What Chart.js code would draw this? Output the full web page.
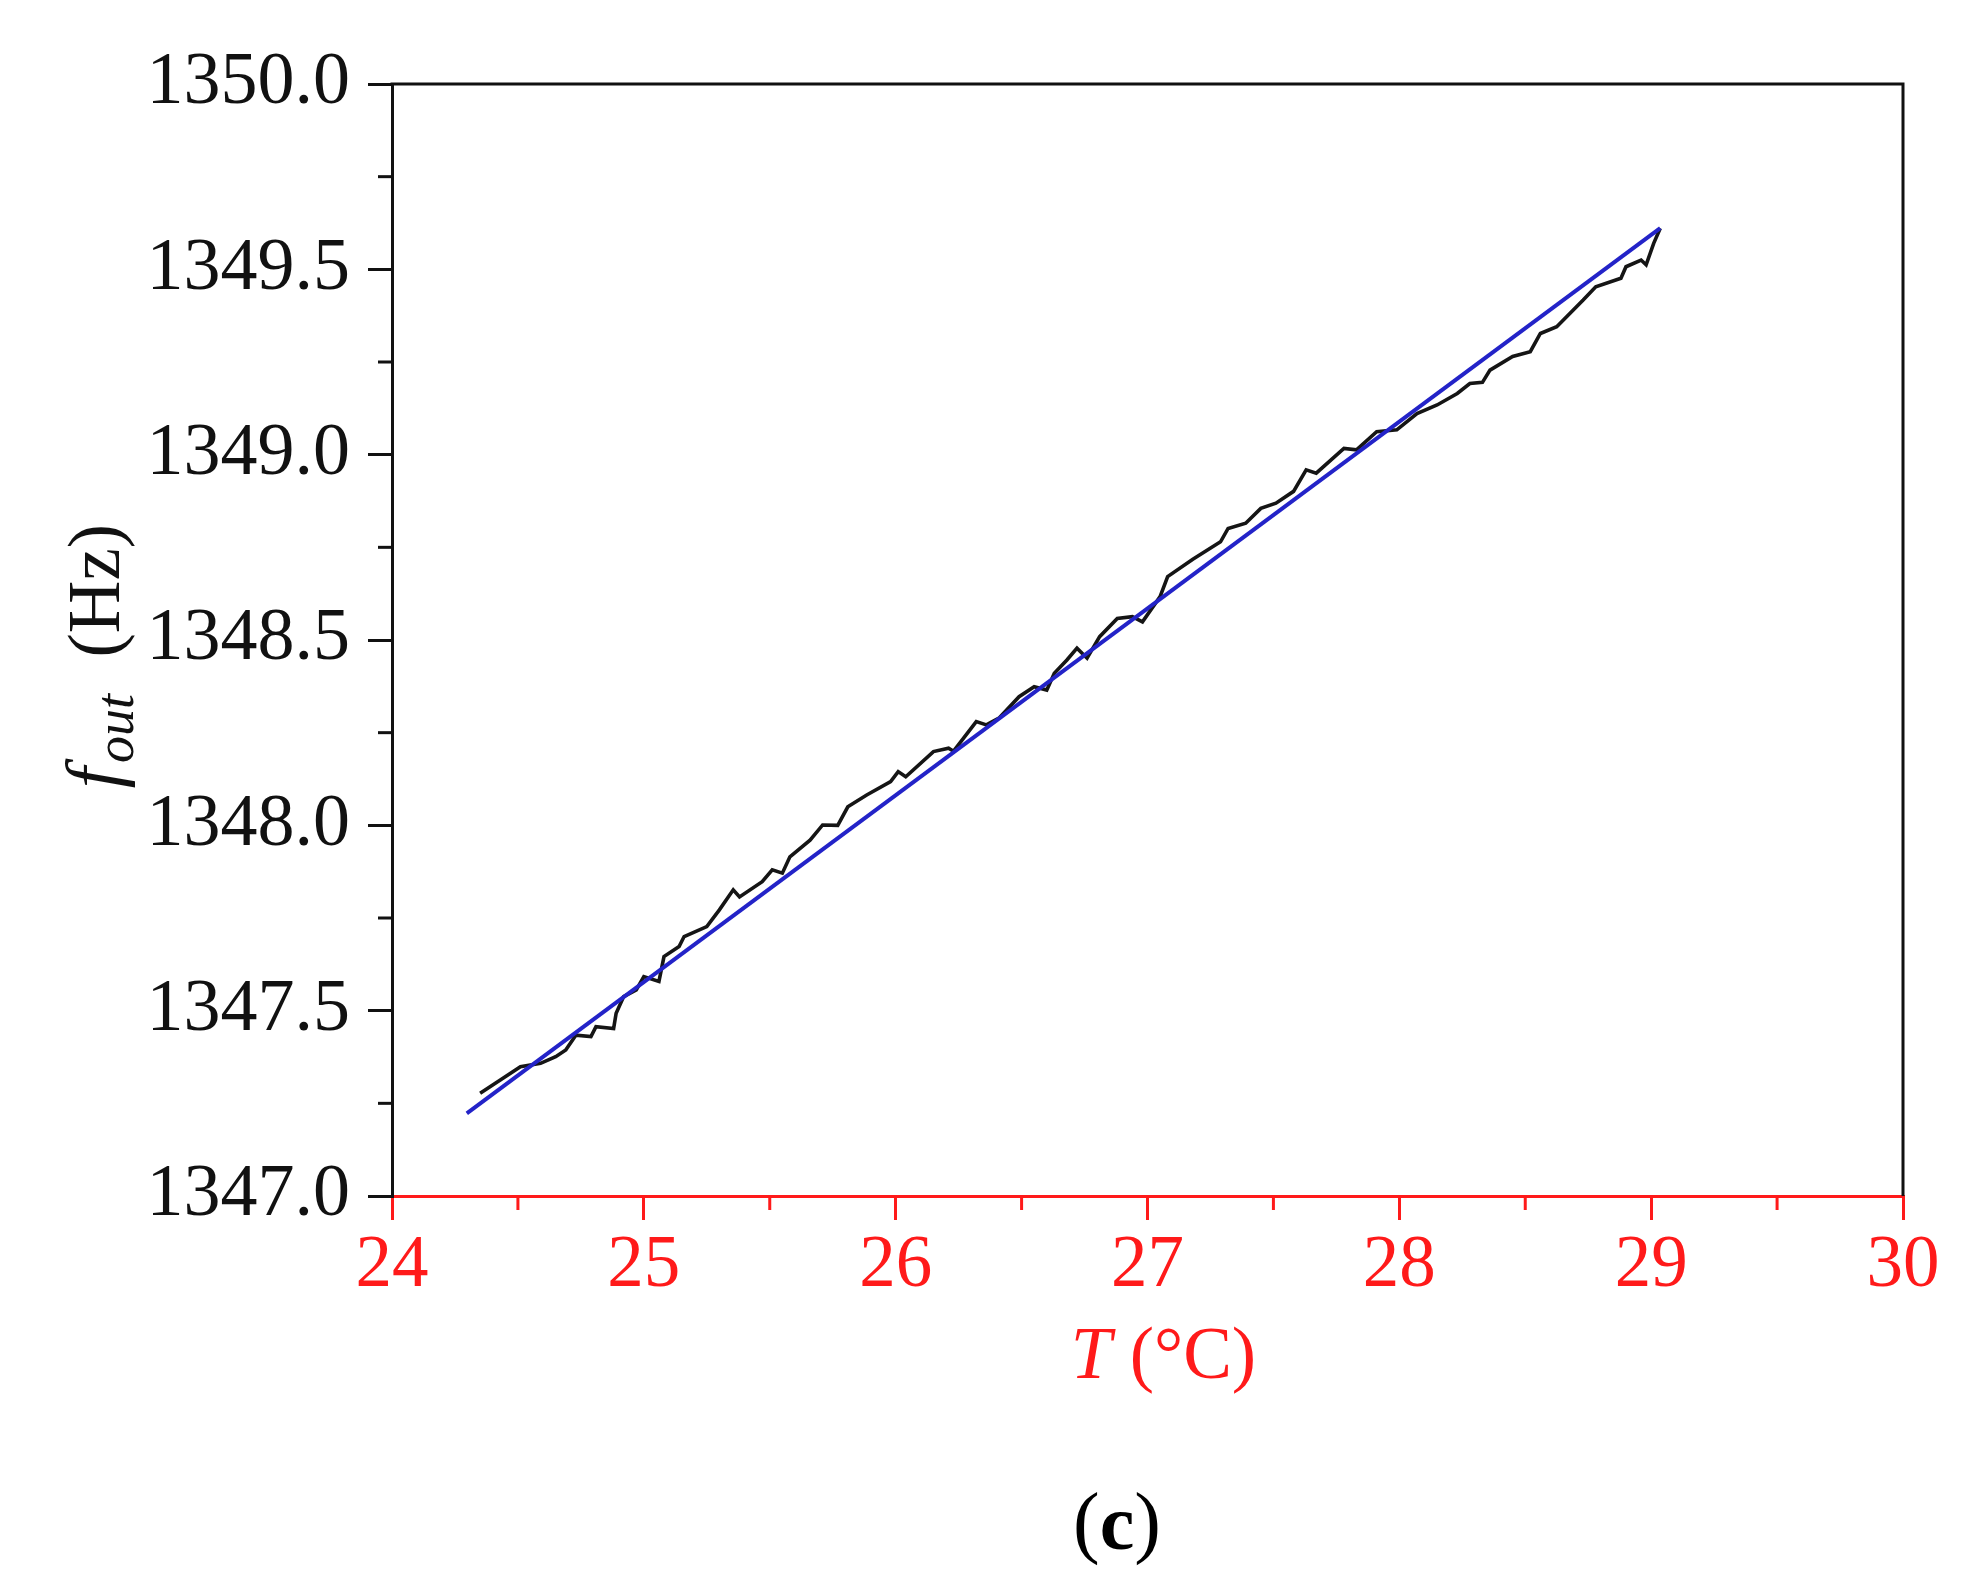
<!DOCTYPE html>
<html>
<head>
<meta charset="utf-8">
<script src="https://cdn.jsdelivr.net/npm/chart.js@4.4.1/dist/chart.umd.min.js"></script>
<style>
  html, body { margin: 0; padding: 0; background: #ffffff; }
  #wrap { position: relative; width: 1979px; height: 1590px; }
  canvas { display: block; }
</style>
</head>
<body>
<div id="wrap"><canvas id="c" width="1979" height="1590"></canvas></div>
<script>
// ---- data ----
const blackT = [24.35,24.43,24.51,24.59,24.65,24.69,24.73,24.79,24.81,24.88,24.89,24.92,24.97,25.00,25.06,25.08,25.14,25.16,25.25,25.30,25.355,25.38,25.47,25.51,25.55,25.58,25.66,25.71,25.77,25.81,25.885,25.98,26.01,26.04,26.15,26.21,26.23,26.32,26.36,26.41,26.49,26.55,26.60,26.63,26.68,26.72,26.76,26.81,26.88,26.94,26.98,27.05,27.08,27.18,27.29,27.32,27.39,27.45,27.51,27.58,27.63,27.67,27.78,27.83,27.91,27.99,28.07,28.15,28.23,28.28,28.33,28.36,28.45,28.52,28.56,28.625,28.73,28.78,28.88,28.90,28.96,28.98,29.01,29.036];
const blackF = [1347.277,1347.313,1347.349,1347.358,1347.376,1347.394,1347.434,1347.430,1347.457,1347.452,1347.493,1347.538,1347.556,1347.592,1347.579,1347.646,1347.673,1347.700,1347.727,1347.772,1347.826,1347.807,1347.848,1347.880,1347.871,1347.915,1347.960,1348.001,1348.000,1348.050,1348.082,1348.118,1348.145,1348.131,1348.199,1348.208,1348.200,1348.280,1348.271,1348.289,1348.347,1348.374,1348.365,1348.410,1348.446,1348.478,1348.451,1348.509,1348.558,1348.563,1348.549,1348.617,1348.671,1348.718,1348.765,1348.801,1348.815,1348.855,1348.869,1348.901,1348.959,1348.950,1349.017,1349.013,1349.062,1349.067,1349.111,1349.134,1349.165,1349.192,1349.195,1349.228,1349.265,1349.278,1349.327,1349.345,1349.417,1349.453,1349.476,1349.507,1349.525,1349.512,1349.570,1349.611];
const fitT = [24.297, 29.036];
const fitF = [1347.223, 1349.611];
const xMin = 24, xMax = 30, xStep = 1, xMinorStep = 0.5;
const yMin = 1347, yMax = 1350, yStep = 0.5, yMinorStep = 0.25;

const SERIF = '"Liberation Serif", "Times New Roman", serif';
const RED = '#ff1a1a';
const INK = '#111111';

const toPts = (xs, ys) => xs.map((x, i) => ({ x: x, y: ys[i] }));

const extras = {
  id: 'extras',
  afterDraw(chart) {
    const { ctx, chartArea: a, scales } = chart;
    ctx.save();
    // top & right frame
    ctx.strokeStyle = INK;
    ctx.lineWidth = 3;
    ctx.beginPath();
    ctx.moveTo(a.left - 1.5, a.top);
    ctx.lineTo(a.right, a.top);
    ctx.lineTo(a.right, a.bottom);
    ctx.stroke();
    // minor ticks x
    ctx.strokeStyle = RED;
    for (let v = xMin + xMinorStep; v < xMax; v += xStep) {
      const px = scales.x.getPixelForValue(v);
      ctx.beginPath();
      ctx.moveTo(px, a.bottom);
      ctx.lineTo(px, a.bottom + 14);
      ctx.stroke();
    }
    // minor ticks y
    ctx.strokeStyle = INK;
    for (let v = yMin + yMinorStep; v < yMax; v += yStep) {
      const py = scales.y.getPixelForValue(v);
      ctx.beginPath();
      ctx.moveTo(a.left, py);
      ctx.lineTo(a.left - 14, py);
      ctx.stroke();
    }
    // x axis title: T (°C)
    ctx.fillStyle = RED;
    ctx.textBaseline = 'middle';
    const f1 = 'italic 73px ' + SERIF, f2 = '73px ' + SERIF;
    ctx.font = f1; const wT = ctx.measureText('T').width;
    ctx.font = f2; const wR = ctx.measureText(' (°C)').width;
    let cx = (a.left + a.right) / 2 + 16, cy = a.bottom + 163;
    let sx = cx - (wT + wR) / 2;
    ctx.textAlign = 'left';
    ctx.font = f1; ctx.fillText('T', sx, cy);
    ctx.font = f2; ctx.fillText(' (°C)', sx + wT, cy);
    // y axis title: f_out (Hz)
    ctx.fillStyle = INK;
    ctx.save();
    ctx.translate(a.left - 295, (a.top + a.bottom) / 2 + 16);
    ctx.rotate(-Math.PI / 2);
    const g1 = 'italic 76px ' + SERIF, g2 = 'italic 54px ' + SERIF, g3 = '73px ' + SERIF;
    ctx.font = g1; const wf = ctx.measureText('f').width + 4;
    ctx.font = g2; const wo = ctx.measureText('out').width;
    ctx.font = g3; const wh = ctx.measureText('  (Hz)').width;
    let tx = -(wf + wo + wh) / 2;
    ctx.textBaseline = 'alphabetic';
    ctx.font = g1; ctx.fillText('f', tx, 22);
    ctx.font = g2; ctx.fillText('out', tx + wf, 36);
    ctx.font = g3; ctx.fillText('  (Hz)', tx + wf + wo, 22);
    ctx.restore();
    // panel label (c)
    ctx.fillStyle = '#000';
    ctx.textBaseline = 'middle';
    const p1 = '80px ' + SERIF, p2 = 'bold 78px ' + SERIF;
    ctx.font = p1; const wp = ctx.measureText('(').width, wq = ctx.measureText(')').width;
    ctx.font = p2; const wc = ctx.measureText('c').width;
    let px0 = 1117 - (wp + wc + wq) / 2, py0 = 1527;
    ctx.font = p1; ctx.fillText('(', px0, py0);
    ctx.font = p2; ctx.fillText('c', px0 + wp, py0 + 2);
    ctx.font = p1; ctx.fillText(')', px0 + wp + wc, py0);
    ctx.restore();
  }
};

new Chart(document.getElementById('c'), {
  type: 'scatter',
  data: {
    datasets: [
      {
        label: 'Linear fit',
        data: toPts(fitT, fitF),
        showLine: true,
        borderColor: '#2323c8',
        borderWidth: 4,
        pointRadius: 0,
        tension: 0,
        fill: false
      },
      {
        label: 'Measured',
        data: toPts(blackT, blackF),
        showLine: true,
        borderColor: '#151515',
        borderWidth: 3.6,
        pointRadius: 0,
        tension: 0,
        fill: false
      }
    ]
  },
  options: {
    responsive: false,
    animation: false,
    devicePixelRatio: 1,
    layout: { padding: { left: 0, top: 84, right: 76, bottom: 0 } },
    plugins: { legend: { display: false }, tooltip: { enabled: false } },
    scales: {
      x: {
        type: 'linear',
        min: xMin, max: xMax,
        afterFit(s) { s.height = 1590 - 1196; },
        ticks: {
          stepSize: xStep,
          color: RED,
          font: { family: SERIF, size: 73 },
          padding: 3,
          maxRotation: 0,
          callback: v => String(v)
        },
        grid: {
          drawOnChartArea: false,
          drawTicks: true,
          tickLength: 24,
          color: RED,
          tickColor: RED,
          lineWidth: 3,
          tickWidth: 3
        },
        border: { color: RED, width: 3 }
      },
      y: {
        type: 'linear',
        min: yMin, max: yMax,
        afterFit(s) { s.width = 392; },
        ticks: {
          stepSize: yStep,
          color: INK,
          font: { family: SERIF, size: 74 },
          padding: 18,
          callback: v => Number(v).toFixed(1)
        },
        grid: {
          drawOnChartArea: false,
          drawTicks: true,
          tickLength: 24,
          color: INK,
          tickColor: INK,
          lineWidth: 3,
          tickWidth: 3
        },
        border: { color: INK, width: 3 }
      }
    }
  },
  plugins: [extras]
});
</script>
</body>
</html>
